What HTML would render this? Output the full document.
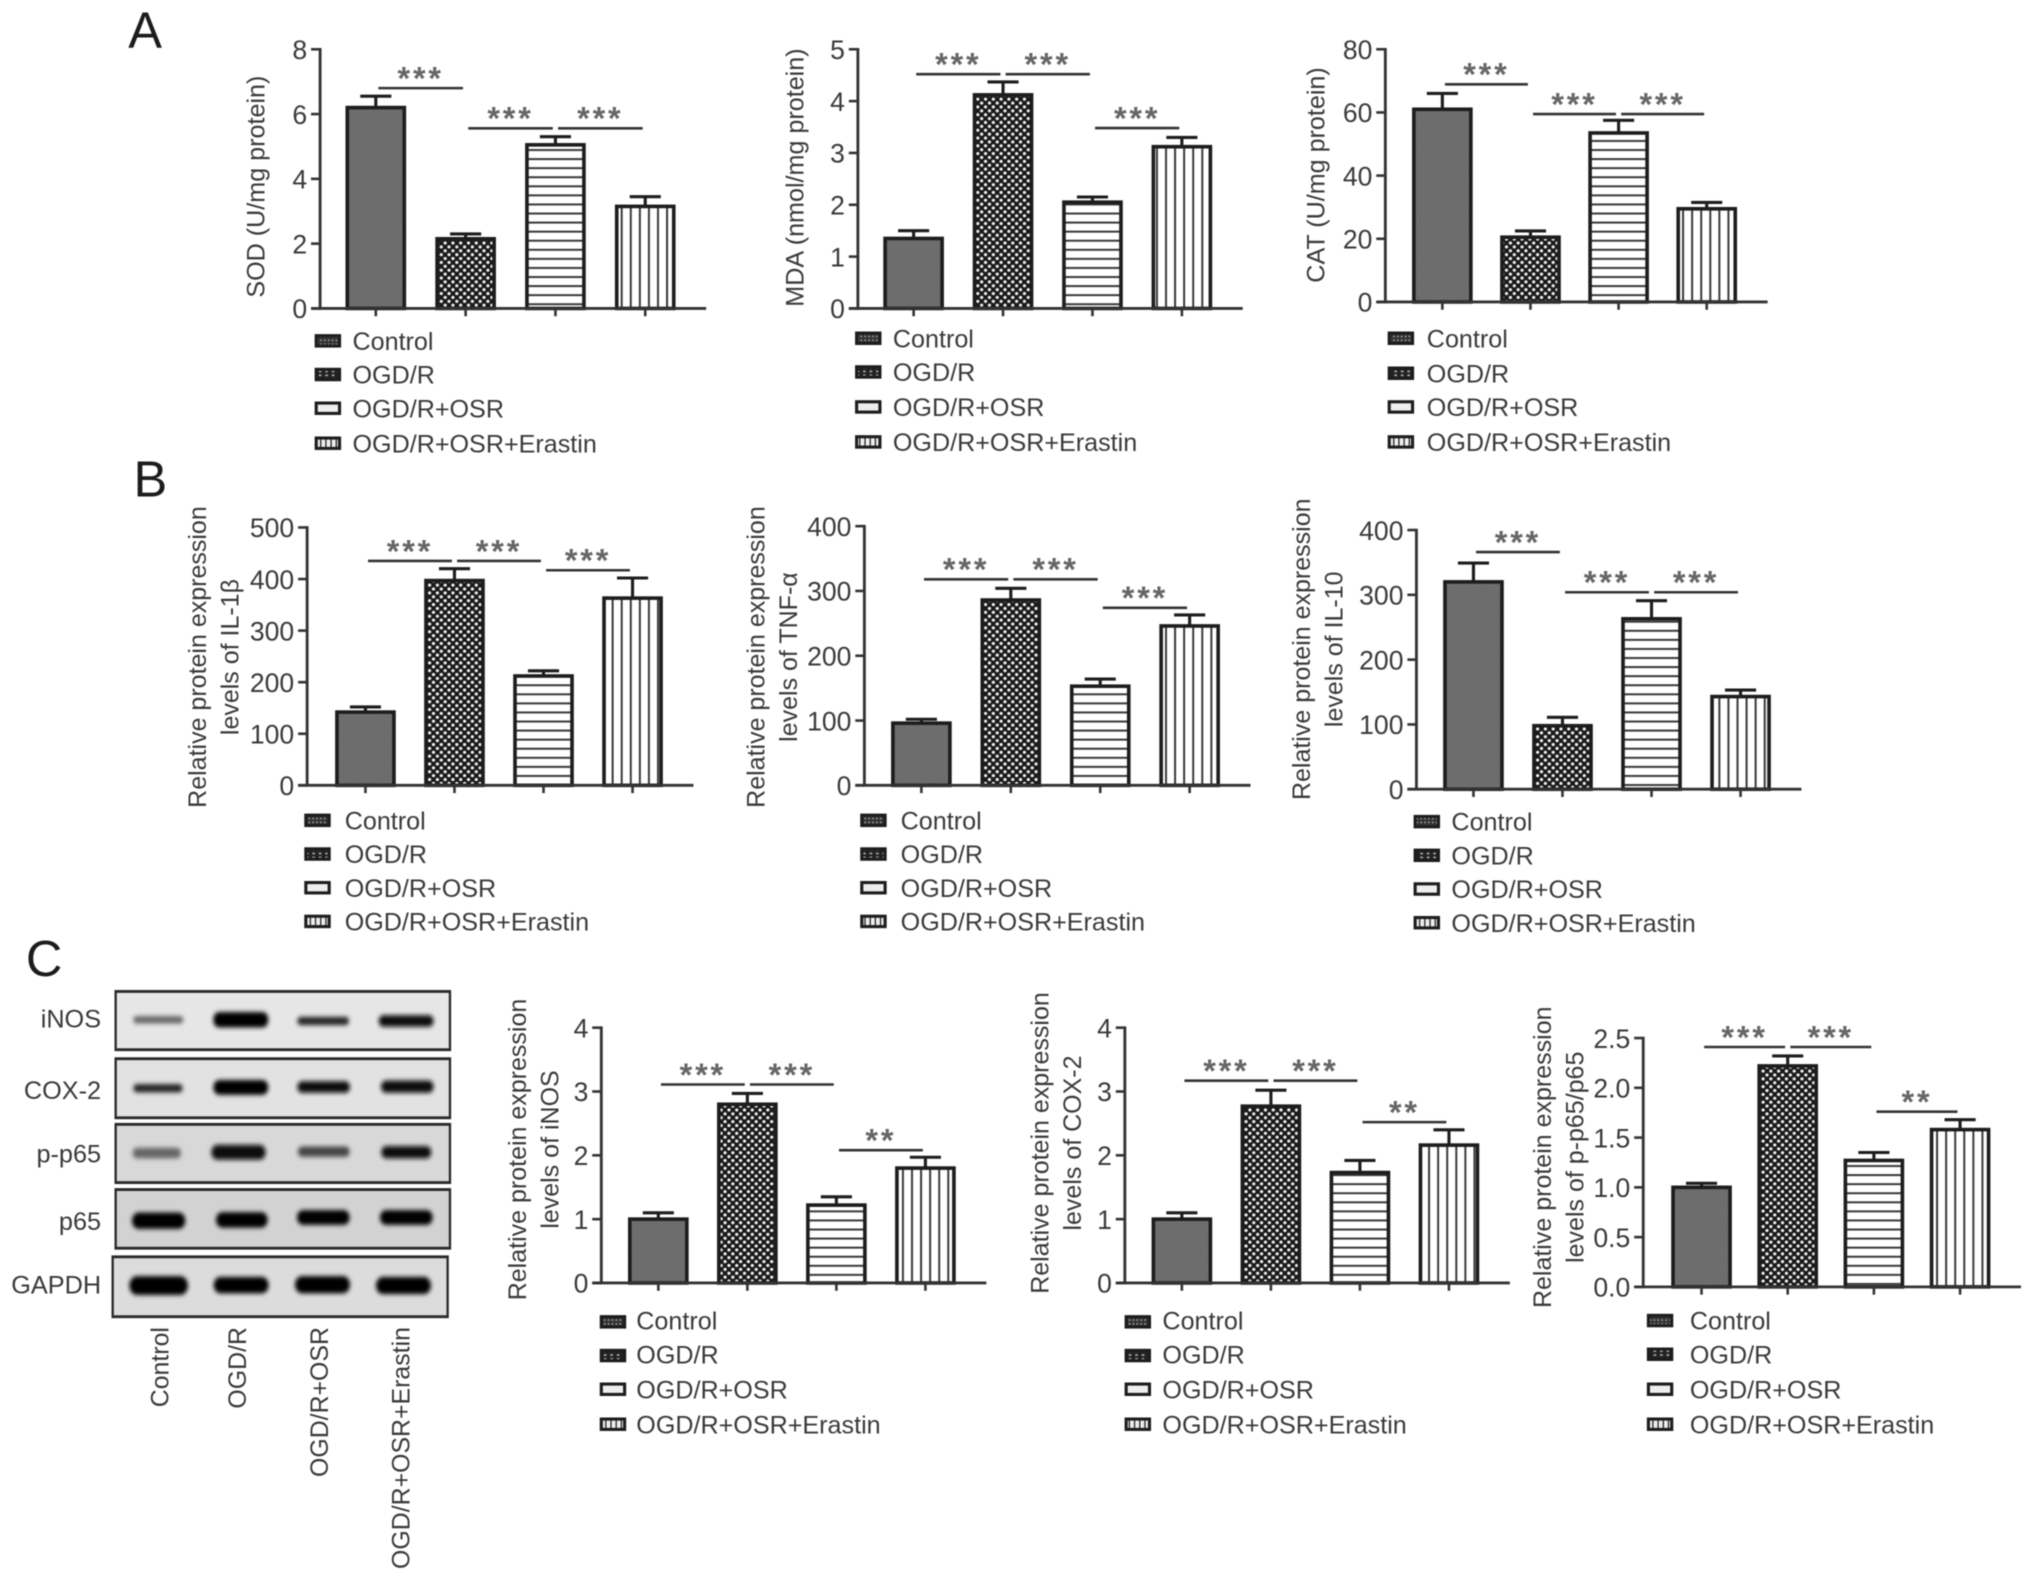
<!DOCTYPE html>
<html lang="en">
<head>
<meta charset="utf-8">
<title>Oxidative stress and inflammation bar charts with western blot</title>
<style>
html,body{margin:0;padding:0;background:#fff}
svg{display:block;filter:blur(.55px)}
text{font-family:"Liberation Sans",sans-serif;fill:#3a3a3a}
.leg{font-size:19.4px}
.yt{font-size:19.4px;text-anchor:middle}
.yr{font-size:19.3px;text-anchor:middle}
.pl{font-size:39px;fill:#1c1c1c}
.bl{font-size:19.5px;text-anchor:end}
.br{font-size:19.2px;text-anchor:end}
.s{stroke:#1d1d1d;stroke-width:2.4}
</style>
</head>
<body>
<svg xmlns="http://www.w3.org/2000/svg" width="2032" height="1583" viewBox="0 0 1568 1221.5">
<defs>
<pattern id="p-control" width="2.4" height="2.4" patternUnits="userSpaceOnUse"><rect width="2.4" height="2.4" fill="#7c7c7c"/><rect width="1.2" height="1.2" fill="#5e5e5e"/><rect x="1.2" y="1.2" width="1.2" height="1.2" fill="#5e5e5e"/></pattern>
<pattern id="p-ogd" width="6" height="6" patternUnits="userSpaceOnUse"><rect width="6" height="6" fill="#1a1a1a"/><circle cx="1.5" cy="1.5" r="1.25" fill="#f2f2f2"/><circle cx="4.5" cy="4.5" r="1.25" fill="#f2f2f2"/></pattern>
<pattern id="p-osr" width="7" height="7" patternUnits="userSpaceOnUse"><rect width="7" height="7" fill="#fff"/><rect y="3" width="7" height="1.5" fill="#333"/></pattern>
<pattern id="p-era" width="7" height="7" patternUnits="userSpaceOnUse"><rect width="7" height="7" fill="#fff"/><rect x="3" width="1.5" height="7" fill="#333"/></pattern>
<pattern id="l-control" width="3" height="3" patternUnits="userSpaceOnUse"><rect width="3" height="3" fill="#333"/><rect x="1" y="1" width="1.2" height="1.2" fill="#aaa"/></pattern>
<pattern id="l-ogd" width="5" height="3" patternUnits="userSpaceOnUse"><rect width="5" height="3" fill="#222"/><rect x="1" y="1" width="2" height="1.2" fill="#bbb"/></pattern>
<pattern id="l-osr" width="4" height="4" patternUnits="userSpaceOnUse"><rect width="4" height="4" fill="#eee"/></pattern>
<pattern id="l-era" width="4" height="4" patternUnits="userSpaceOnUse"><rect width="4" height="4" fill="#eee"/><rect x="3" width="1" height="4" fill="#222"/></pattern>
<filter id="band-blur" x="-20%" y="-80%" width="140%" height="260%"><feGaussianBlur stdDeviation="6"/></filter>
</defs>

<text class="pl" x="99" y="37">A</text>
<text class="pl" x="103" y="383">B</text>
<text class="pl" x="20" y="753">C</text>

<g id="chart-sod">
<text class="yt" transform="translate(204,144) rotate(-90)">SOD (U/mg protein)</text>
<g>
<rect class="s" x="244" y="259" width="18" height="8" fill="url(#l-control)"/><text class="leg" x="272" y="270">Control</text>
<rect class="s" x="244" y="285" width="18" height="8" fill="url(#l-ogd)"/><text class="leg" x="272" y="296">OGD/R</text>
<rect class="s" x="244" y="311" width="18" height="8" fill="url(#l-osr)"/><text class="leg" x="272" y="322">OGD/R+OSR</text>
<rect class="s" x="244" y="338" width="18" height="8" fill="url(#l-era)"/><text class="leg" x="272" y="349">OGD/R+OSR+Erastin</text>
</g>
</g>

<g id="chart-mda">
<text class="yt" transform="translate(620,137) rotate(-90)">MDA (nmol/mg protein)</text>
<g>
<rect class="s" x="661" y="257" width="18" height="8" fill="url(#l-control)"/><text class="leg" x="689" y="268">Control</text>
<rect class="s" x="661" y="283" width="18" height="8" fill="url(#l-ogd)"/><text class="leg" x="689" y="294">OGD/R</text>
<rect class="s" x="661" y="310" width="18" height="8" fill="url(#l-osr)"/><text class="leg" x="689" y="321">OGD/R+OSR</text>
<rect class="s" x="661" y="337" width="18" height="8" fill="url(#l-era)"/><text class="leg" x="689" y="348">OGD/R+OSR+Erastin</text>
</g>
</g>

<g id="chart-cat">
<text class="yt" transform="translate(1022,135) rotate(-90)">CAT (U/mg protein)</text>
<g>
<rect class="s" x="1072" y="257" width="18" height="8" fill="url(#l-control)"/><text class="leg" x="1101" y="268">Control</text>
<rect class="s" x="1072" y="284" width="18" height="8" fill="url(#l-ogd)"/><text class="leg" x="1101" y="295">OGD/R</text>
<rect class="s" x="1072" y="310" width="18" height="8" fill="url(#l-osr)"/><text class="leg" x="1101" y="321">OGD/R+OSR</text>
<rect class="s" x="1072" y="337" width="18" height="8" fill="url(#l-era)"/><text class="leg" x="1101" y="348">OGD/R+OSR+Erastin</text>
</g>
</g>

<g id="chart-il1b">
<text class="yr" transform="translate(159,507) rotate(-90)"><tspan x="0" y="0">Relative protein expression</tspan><tspan x="0" y="25">levels of IL-1β</tspan></text>
<g>
<rect class="s" x="236" y="629" width="18" height="8" fill="url(#l-control)"/><text class="leg" x="266" y="640">Control</text>
<rect class="s" x="236" y="655" width="18" height="8" fill="url(#l-ogd)"/><text class="leg" x="266" y="666">OGD/R</text>
<rect class="s" x="236" y="681" width="18" height="8" fill="url(#l-osr)"/><text class="leg" x="266" y="692">OGD/R+OSR</text>
<rect class="s" x="236" y="707" width="18" height="8" fill="url(#l-era)"/><text class="leg" x="266" y="718">OGD/R+OSR+Erastin</text>
</g>
</g>

<g id="chart-tnf">
<text class="yr" transform="translate(590,507) rotate(-90)"><tspan x="0" y="0">Relative protein expression</tspan><tspan x="0" y="25">levels of TNF-α</tspan></text>
<g>
<rect class="s" x="665" y="629" width="18" height="8" fill="url(#l-control)"/><text class="leg" x="695" y="640">Control</text>
<rect class="s" x="665" y="655" width="18" height="8" fill="url(#l-ogd)"/><text class="leg" x="695" y="666">OGD/R</text>
<rect class="s" x="665" y="681" width="18" height="8" fill="url(#l-osr)"/><text class="leg" x="695" y="692">OGD/R+OSR</text>
<rect class="s" x="665" y="707" width="18" height="8" fill="url(#l-era)"/><text class="leg" x="695" y="718">OGD/R+OSR+Erastin</text>
</g>
</g>

<g id="chart-il10">
<text class="yr" transform="translate(1011,501) rotate(-90)"><tspan x="0" y="0">Relative protein expression</tspan><tspan x="0" y="25">levels of IL-10</tspan></text>
<g>
<rect class="s" x="1092" y="630" width="18" height="8" fill="url(#l-control)"/><text class="leg" x="1120" y="641">Control</text>
<rect class="s" x="1092" y="656" width="18" height="8" fill="url(#l-ogd)"/><text class="leg" x="1120" y="667">OGD/R</text>
<rect class="s" x="1092" y="682" width="18" height="8" fill="url(#l-osr)"/><text class="leg" x="1120" y="693">OGD/R+OSR</text>
<rect class="s" x="1092" y="708" width="18" height="8" fill="url(#l-era)"/><text class="leg" x="1120" y="719">OGD/R+OSR+Erastin</text>
</g>
</g>

<g id="chart-inos">
<text class="yr" transform="translate(406,887) rotate(-90)"><tspan x="0" y="0">Relative protein expression</tspan><tspan x="0" y="25">levels of iNOS</tspan></text>
<g>
<rect class="s" x="464" y="1016" width="18" height="8" fill="url(#l-control)"/><text class="leg" x="491" y="1026">Control</text>
<rect class="s" x="464" y="1042" width="18" height="8" fill="url(#l-ogd)"/><text class="leg" x="491" y="1052">OGD/R</text>
<rect class="s" x="464" y="1068" width="18" height="8" fill="url(#l-osr)"/><text class="leg" x="491" y="1079">OGD/R+OSR</text>
<rect class="s" x="464" y="1095" width="18" height="8" fill="url(#l-era)"/><text class="leg" x="491" y="1106">OGD/R+OSR+Erastin</text>
</g>
</g>

<g id="chart-cox2">
<text class="yr" transform="translate(809,882) rotate(-90)"><tspan x="0" y="0">Relative protein expression</tspan><tspan x="0" y="25">levels of COX-2</tspan></text>
<g>
<rect class="s" x="869" y="1016" width="18" height="8" fill="url(#l-control)"/><text class="leg" x="897" y="1026">Control</text>
<rect class="s" x="869" y="1042" width="18" height="8" fill="url(#l-ogd)"/><text class="leg" x="897" y="1052">OGD/R</text>
<rect class="s" x="869" y="1068" width="18" height="8" fill="url(#l-osr)"/><text class="leg" x="897" y="1079">OGD/R+OSR</text>
<rect class="s" x="869" y="1095" width="18" height="8" fill="url(#l-era)"/><text class="leg" x="897" y="1106">OGD/R+OSR+Erastin</text>
</g>
</g>

<g id="chart-p65">
<text class="yr" transform="translate(1197,893) rotate(-90)"><tspan x="0" y="0">Relative protein expression</tspan><tspan x="0" y="25">levels of p-p65/p65</tspan></text>
<g>
<rect class="s" x="1272" y="1015" width="18" height="8" fill="url(#l-control)"/><text class="leg" x="1304" y="1026">Control</text>
<rect class="s" x="1272" y="1041" width="18" height="8" fill="url(#l-ogd)"/><text class="leg" x="1304" y="1052">OGD/R</text>
<rect class="s" x="1272" y="1068" width="18" height="8" fill="url(#l-osr)"/><text class="leg" x="1304" y="1079">OGD/R+OSR</text>
<rect class="s" x="1272" y="1095" width="18" height="8" fill="url(#l-era)"/><text class="leg" x="1304" y="1106">OGD/R+OSR+Erastin</text>
</g>
</g>

<g>
<g transform="translate(0,725.8) scale(0.2572,0.3165)">
<g stroke="#2a2a2a" stroke-width="7">
<rect x="347" y="124" width="1003" height="142" fill="#e6e6e6"/>
<rect x="347" y="288" width="1003" height="144" fill="#e2e2e2"/>
<rect x="347" y="448" width="1003" height="142" fill="#d8d8d8"/>
<rect x="347" y="607" width="1003" height="143" fill="#d2d2d2"/>
<rect x="338" y="771" width="1005" height="146" fill="#dcdcdc"/>
</g>
<g filter="url(#band-blur)">
<rect x="400" y="184" width="150" height="18" rx="9" fill="#666"/><rect x="640" y="174" width="165" height="38" rx="18" fill="#050505"/><rect x="892" y="186" width="155" height="20" rx="10" fill="#222"/><rect x="1136" y="182" width="165" height="28" rx="14" fill="#0a0a0a"/>
<rect x="400" y="350" width="148" height="20" rx="10" fill="#222"/><rect x="640" y="340" width="165" height="36" rx="18" fill="#050505"/><rect x="892" y="343" width="158" height="28" rx="14" fill="#0a0a0a"/><rect x="1143" y="341" width="158" height="30" rx="15" fill="#0a0a0a"/>
<rect x="398" y="505" width="145" height="26" rx="13" fill="#666"/><rect x="634" y="498" width="163" height="36" rx="18" fill="#0a0a0a"/><rect x="894" y="502" width="155" height="25" rx="12" fill="#444"/><rect x="1144" y="501" width="150" height="30" rx="15" fill="#111"/>
<rect x="396" y="663" width="160" height="40" rx="20" fill="#000"/><rect x="648" y="662" width="155" height="38" rx="19" fill="#050505"/><rect x="891" y="657" width="158" height="36" rx="18" fill="#000"/><rect x="1140" y="657" width="158" height="36" rx="18" fill="#000"/>
<rect x="388" y="818" width="176" height="46" rx="23" fill="#000"/><rect x="641" y="820" width="165" height="40" rx="20" fill="#000"/><rect x="885" y="818" width="165" height="42" rx="21" fill="#000"/><rect x="1128" y="820" width="165" height="42" rx="21" fill="#000"/>
</g>
</g>
<text class="bl" x="78" y="793">iNOS</text>
<text class="bl" x="78" y="848">COX-2</text>
<text class="bl" x="78" y="897">p-p65</text>
<text class="bl" x="78" y="949">p65</text>
<text class="bl" x="78" y="998">GAPDH</text>
<text class="br" transform="translate(130,1024) rotate(-90)">Control</text>
<text class="br" transform="translate(190,1024) rotate(-90)">OGD/R</text>
<text class="br" transform="translate(253,1024) rotate(-90)">OGD/R+OSR</text>
<text class="br" transform="translate(316,1024) rotate(-90)">OGD/R+OSR+Erastin</text>
</g>
<g id="marks"></g>
</svg>
<script>
// Bar values, error-bar tops, y tick labels and significance annotations [from bar, to bar, level, stars]
const fillPatterns = ['p-control', 'p-ogd', 'p-osr', 'p-era'];
const barNames = ['control', 'ogd-r', 'ogd-r-osr', 'ogd-r-osr-erastin'];

const sodValues = [6.2, 2.15, 5.05, 3.15];
const sodErrorTops = [6.55, 2.3, 5.3, 3.45];
const sodTicks = ['0', '2', '4', '6', '8'];
const sodSig = [[0, 1, 6.8, '***'], [1, 2, 5.56, '***'], [2, 3, 5.56, '***']];

const mdaValues = [1.35, 4.12, 2.05, 3.12];
const mdaErrorTops = [1.5, 4.37, 2.15, 3.3];
const mdaTicks = ['0', '1', '2', '3', '4', '5'];
const mdaSig = [[0, 1, 4.52, '***'], [1, 2, 4.52, '***'], [2, 3, 3.48, '***']];

const catValues = [61, 20.5, 53.5, 29.5];
const catErrorTops = [66, 22.5, 57.5, 31.5];
const catTicks = ['0', '20', '40', '60', '80'];
const catSig = [[0, 1, 68.9, '***'], [1, 2, 59.5, '***'], [2, 3, 59.5, '***']];

const il1bValues = [142, 397, 212, 363];
const il1bErrorTops = [152, 420, 222, 402];
const il1bTicks = ['0', '100', '200', '300', '400', '500'];
const il1bSig = [[0, 1, 435, '***'], [1, 2, 435, '***'], [2, 3, 417, '***']];

const tnfValues = [96, 286, 153, 246];
const tnfErrorTops = [102, 304, 164, 263];
const tnfTicks = ['0', '100', '200', '300', '400'];
const tnfSig = [[0, 1, 318, '***'], [1, 2, 318, '***'], [2, 3, 274, '***']];

const il10Values = [320, 98, 263, 143];
const il10ErrorTops = [349, 111, 291, 153];
const il10Ticks = ['0', '100', '200', '300', '400'];
const il10Sig = [[0, 1, 366, '***'], [1, 2, 304, '***'], [2, 3, 304, '***']];

const inosValues = [1.0, 2.8, 1.22, 1.8];
const inosErrorTops = [1.1, 2.97, 1.35, 1.97];
const inosTicks = ['0', '1', '2', '3', '4'];
const inosSig = [[0, 1, 3.11, '***'], [1, 2, 3.11, '***'], [2, 3, 2.08, '**']];

const cox2Values = [1.0, 2.77, 1.73, 2.16];
const cox2ErrorTops = [1.1, 3.02, 1.92, 2.4];
const cox2Ticks = ['0', '1', '2', '3', '4'];
const cox2Sig = [[0, 1, 3.17, '***'], [1, 2, 3.17, '***'], [2, 3, 2.52, '**']];

const p65Values = [1.0, 2.22, 1.27, 1.58];
const p65ErrorTops = [1.04, 2.32, 1.35, 1.68];
const p65Ticks = ['0.0', '0.5', '1.0', '1.5', '2.0', '2.5'];
const p65Sig = [[0, 1, 2.41, '***'], [1, 2, 2.41, '***'], [2, 3, 1.76, '**']];

const SVGNS = 'http://www.w3.org/2000/svg';
function make(parent, tag, attrs, txt) {
  const el = document.createElementNS(SVGNS, tag);
  for (const k in attrs) el.setAttribute(k, attrs[k]);
  if (txt !== undefined) el.textContent = txt;
  parent.appendChild(el);
  return el;
}

function drawChart(target, c) {
  const root = document.getElementById(target);
  const maxV = Number(c.ticks[c.ticks.length - 1]);
  const yScale = v => c.y0 - v * (c.y0 - c.yTop) / maxV;
  const xScale = i => c.x0 + c.step * i;
  const barW = 44;
  const ink = '#1d1d1d';
  const axisInk = '#333';

  c.values.forEach((v, i) => {
    const x = xScale(i);
    const eb = make(root, 'path', { d: 'M' + x + ' ' + yScale(v) + 'V' + yScale(c.errs[i]) + 'M' + (x - 12) + ' ' + yScale(c.errs[i]) + 'H' + (x + 12), stroke: ink, 'stroke-width': 2.4, fill: 'none' });
    
    
    const bar = make(root, 'rect', { x: x - barW / 2, y: yScale(v), width: barW, height: c.y0 - yScale(v), fill: 'url(#' + fillPatterns[i] + ')', stroke: ink, 'stroke-width': 2.8 });
    
    
    const tick = make(root, 'line', { x1: x, x2: x, y1: c.y0, y2: c.y0 + 6, stroke: axisInk, 'stroke-width': 2 });
    
    
  });

  const yAxis = make(root, 'line', { x1: c.axisX, x2: c.axisX, y1: c.yTop - 1, y2: c.y0 + 1, stroke: axisInk, 'stroke-width': 2.2 });
  
  
  const xAxis = make(root, 'line', { x1: c.axisX - 7, x2: xScale(3) + 47, y1: c.y0, y2: c.y0, stroke: axisInk, 'stroke-width': 2.2 });
  
  

  c.ticks.forEach(t => {
    const y = yScale(Number(t));
    const tk = make(root, 'line', { x1: c.axisX - 7, x2: c.axisX, y1: y, y2: y, stroke: axisInk, 'stroke-width': 2 });
    
    
    const lab = make(root, 'text', { x: c.axisX - 10, y: y + 7.5, 'text-anchor': 'end', 'font-size': 20.5 }, t);
    
    
  });

  c.sig.forEach(s => {
    const x1 = xScale(s[0]) + 2, x2 = xScale(s[1]) - 2, y = yScale(s[2]);
    const ln = make(root, 'line', { x1: x1, x2: x2, y1: y, y2: y, stroke: '#333', 'stroke-width': 2 });
    
    
    const st = make(root, 'text', { x: (x1 + x2) / 2, y: y + 1, 'text-anchor': 'middle', 'font-size': 25, 'font-weight': 'bold', 'letter-spacing': 2.2, style: 'fill:#666' }, s[3]);
    
    
  });
}

drawChart('chart-sod', { values: sodValues, errs: sodErrorTops, ticks: sodTicks, sig: sodSig, axisX: 247, y0: 238, yTop: 38, x0: 290, step: 69.3 });
drawChart('chart-mda', { values: mdaValues, errs: mdaErrorTops, ticks: mdaTicks, sig: mdaSig, axisX: 662, y0: 238, yTop: 38, x0: 705, step: 69 });
drawChart('chart-cat', { values: catValues, errs: catErrorTops, ticks: catTicks, sig: catSig, axisX: 1069, y0: 233, yTop: 38, x0: 1113, step: 68 });
drawChart('chart-il1b', { values: il1bValues, errs: il1bErrorTops, ticks: il1bTicks, sig: il1bSig, axisX: 237, y0: 606, yTop: 407, x0: 282, step: 68.7 });
drawChart('chart-tnf', { values: tnfValues, errs: tnfErrorTops, ticks: tnfTicks, sig: tnfSig, axisX: 667, y0: 606, yTop: 406, x0: 711, step: 69 });
drawChart('chart-il10', { values: il10Values, errs: il10ErrorTops, ticks: il10Ticks, sig: il10Sig, axisX: 1093, y0: 609, yTop: 409, x0: 1137, step: 68.7 });
drawChart('chart-inos', { values: inosValues, errs: inosErrorTops, ticks: inosTicks, sig: inosSig, axisX: 464, y0: 990, yTop: 793, x0: 508, step: 68.7 });
drawChart('chart-cox2', { values: cox2Values, errs: cox2ErrorTops, ticks: cox2Ticks, sig: cox2Sig, axisX: 868, y0: 990, yTop: 793, x0: 912, step: 68.7 });
drawChart('chart-p65', { values: p65Values, errs: p65ErrorTops, ticks: p65Ticks, sig: p65Sig, axisX: 1268, y0: 993, yTop: 801, x0: 1313, step: 66.5 });
</script>
</body>
</html>
